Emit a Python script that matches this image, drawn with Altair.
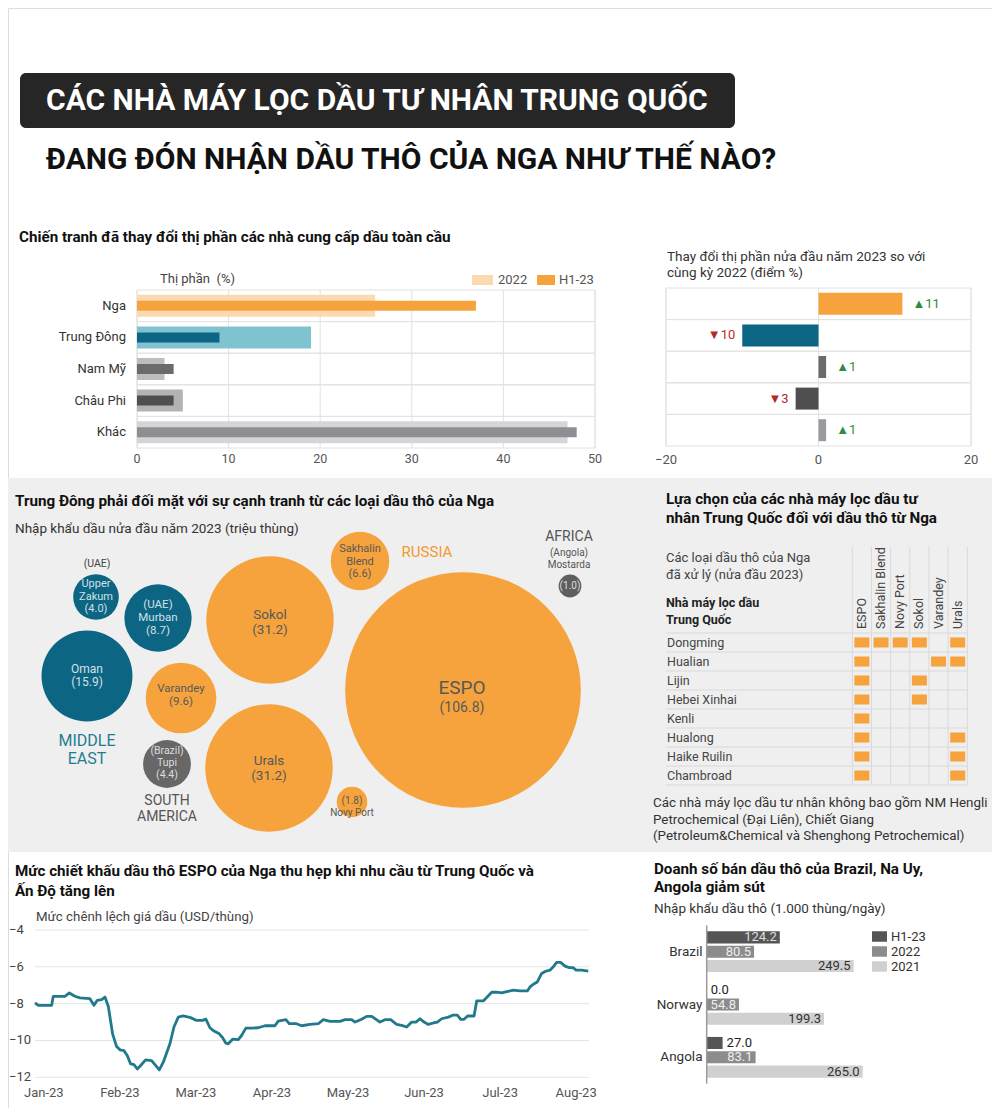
import altair as alt
import pandas as pd

# ---------------- values ----------------
regions = ["Nga", "Trung Đông", "Nam Mỹ", "Châu Phi", "Khác"]
share_2022 = [26, 19, 3, 5, 47]
share_h1 = [37, 9, 4, 4, 48]
share_change = [11, -10, 1, -3, 1]
share_ticks = [0, 10, 20, 30, 40, 50]
change_ticks = [-20, 0, 20]

crudes = ["Upper Zakum", "Murban", "Oman", "Varandey", "Tupi", "Sokol",
          "Urals", "Sakhalin Blend", "ESPO", "Novy Port", "Mostarda"]
crude_volume = [4.0, 8.7, 15.9, 9.6, 4.4, 31.2, 31.2, 6.6, 106.8, 1.8, 1.0]
crude_region = ["Middle East", "Middle East", "Middle East", "Russia", "South America",
                "Russia", "Russia", "Russia", "Russia", "Russia", "Africa"]

refineries = ["Dongming", "Hualian", "Lijin", "Hebei Xinhai", "Kenli",
              "Hualong", "Haike Ruilin", "Chambroad"]
russian_grades = ["ESPO", "Sakhalin Blend", "Novy Port", "Sokol", "Varandey", "Urals"]
processed = [
    [1, 1, 1, 1, 0, 1],
    [1, 0, 0, 0, 1, 1],
    [1, 0, 0, 1, 0, 0],
    [1, 0, 0, 1, 0, 0],
    [1, 0, 0, 0, 0, 0],
    [1, 0, 0, 0, 0, 1],
    [1, 0, 0, 0, 0, 1],
    [1, 0, 0, 0, 0, 1],
]

month_labels = ["Jan-23", "Feb-23", "Mar-23", "Apr-23", "May-23", "Jun-23", "Jul-23", "Aug-23"]
# time in months after the Jan-23 tick
espo_t = [-0.110, -0.066, 0.110, 0.131, 0.285, 0.342, 0.416, 0.482, 0.613, 0.666, 0.710, 0.767,
          0.811, 0.855, 0.911, 0.964, 1.008, 1.060, 1.104, 1.148, 1.192, 1.236, 1.280, 1.345,
          1.424, 1.468, 1.525, 1.578, 1.665, 1.718, 1.775, 1.840, 1.937, 2.016, 2.095, 2.138,
          2.191, 2.244, 2.314, 2.358, 2.401, 2.432, 2.489, 2.564, 2.607, 2.664, 2.739, 2.826,
          2.914, 3.046, 3.089, 3.190, 3.234, 3.330, 3.396,
          3.507, 3.616, 3.682, 3.770, 3.901, 3.967, 4.055, 4.099, 4.186, 4.252, 4.318, 4.427,
          4.493, 4.567, 4.646, 4.712, 4.778, 4.844, 4.900, 4.953, 5.006, 5.063, 5.129, 5.181,
          5.238, 5.326, 5.392, 5.444, 5.488, 5.532, 5.580, 5.664, 5.699, 5.786, 5.830, 5.896,
          5.962, 6.028, 6.093, 6.181, 6.269, 6.365, 6.400, 6.443, 6.496, 6.553, 6.605, 6.662,
          6.706, 6.750, 6.803, 6.860, 6.916, 6.969, 7.005, 7.079, 7.166]
espo_diff = [-7.96, -8.09, -8.09, -7.60, -7.60, -7.42, -7.60, -7.69, -7.73, -8.09, -7.82, -7.78,
             -7.64, -8.15, -9.64, -10.33, -10.51, -10.55, -10.82, -11.27, -11.31, -11.55, -11.36, -11.05,
             -11.09, -11.31, -11.60, -11.18, -10.18, -9.27, -8.73, -8.67, -8.76, -8.91, -8.91, -8.84,
             -9.31, -9.49, -9.64, -9.85, -10.15, -10.18, -9.93, -9.95, -9.73, -9.33, -9.33, -9.31,
             -9.20, -9.20, -8.95, -8.87, -9.09, -9.09, -9.20,
             -9.13, -9.09, -8.87, -8.96, -8.96, -8.87, -8.87, -9.00, -8.85, -8.69, -8.69, -9.00,
             -8.87, -8.87, -9.13, -9.18, -9.27, -9.00, -9.00, -8.82, -9.00, -9.13, -9.05, -9.00,
             -8.82, -8.73, -8.62, -8.62, -8.85, -8.85, -8.67, -8.67, -7.85, -7.85, -7.67, -7.38,
             -7.38, -7.42, -7.35, -7.27, -7.31, -7.31, -7.09, -6.95, -6.82, -6.36, -6.24, -6.18,
             -6.00, -5.76, -5.76, -5.96, -6.04, -6.05, -6.18, -6.18, -6.24]
diff_ticks = [-4, -6, -8, -10, -12]

countries = ["Brazil", "Norway", "Angola"]
import_series = ["H1-23", "2022", "2021"]
imports_h1 = [124.2, 0.0, 27.0]
imports_2022 = [80.5, 54.8, 83.1]
imports_2021 = [249.5, 199.3, 265.0]

# ---------------- layout & style ----------------
W, H, M = 984, 1100, 8


def px(v):
    return v - M


FONT = "Roboto"
GRID = "#e2e2e2"
ORANGE = "#f6a33d"
TEAL = "#0b6583"
TICK = "#555555"
one = pd.DataFrame({"k": [0]})

# bubble centres (layout, page px)
bubble_cx = [96, 158, 87, 181, 167, 270, 269, 360, 463, 352, 570]
bubble_cy = [597, 618, 676, 698, 764, 620, 768, 561, 690, 802, 586]
LIGHT_IN = "#d3e0e5"
DARK_IN = "#595959"
# text, x, y (block centre), font size, colour, line height
bubble_labels = [
    ("(UAE)", 97, 564, 10.5, "#444444", 12),
    ("Upper\nZakum\n(4.0)", 96, 596.5, 11, LIGHT_IN, 12.5),
    ("(UAE)\nMurban\n(8.7)", 158, 617.5, 11.5, LIGHT_IN, 13),
    ("Oman\n(15.9)", 87, 675.5, 12, LIGHT_IN, 13.5),
    ("MIDDLE\nEAST", 87, 750, 16, "#1f7d93", 18),
    ("Varandey\n(9.6)", 181, 695, 11.5, DARK_IN, 13),
    ("(Brazil)\nTupi\n(4.4)", 167, 763, 10.5, "#dddddd", 12),
    ("SOUTH\nAMERICA", 167, 809, 14, "#555555", 16),
    ("Sokol\n(31.2)", 270, 622.5, 13.5, DARK_IN, 15.5),
    ("Urals\n(31.2)", 269, 768.5, 13.5, DARK_IN, 15.5),
    ("Sakhalin\nBlend\n(6.6)", 360, 561.5, 11, DARK_IN, 12.5),
    ("RUSSIA", 427, 552, 15, "#f29a2e", 15),
    ("ESPO", 462, 688, 19, DARK_IN, 19),
    ("(106.8)", 462, 708, 14, DARK_IN, 14),
    ("(1.8)\nNovy Port", 352, 807, 10, DARK_IN, 12),
    ("AFRICA", 569, 537, 14, "#555555", 14),
    ("(Angola)\nMostarda", 569, 558.5, 10, "#555555", 12),
    ("(1.0)", 570, 586, 10, "#dddddd", 10),
]


def note(text, x, y, size=13, color="#333333", weight="normal", align="left",
         baseline="middle", font=FONT, angle=0):
    return alt.Chart(one).mark_text(
        text=text, font=font, fontSize=size, color=color, fontWeight=weight,
        align=align, baseline=baseline, angle=angle
    ).encode(x=alt.value(px(x)), y=alt.value(px(y)))


def box(x1, y1, x2, y2, color, radius=0):
    return alt.Chart(one).mark_rect(color=color, cornerRadius=radius).encode(
        x=alt.value(px(x1)), x2=alt.value(px(x2)), y=alt.value(px(y1)), y2=alt.value(px(y2)))


TITLE = 15.2
layers = []

# ---------------- header ----------------
layers += [
    box(20, 73, 735, 128, "#262626", 6),
    note("CÁC NHÀ MÁY LỌC DẦU TƯ NHÂN TRUNG QUỐC", 46, 101, 30, "#ffffff", "bold"),
    note("ĐANG ĐÓN NHẬN DẦU THÔ CỦA NGA NHƯ THẾ NÀO?", 46, 160, 30, "#111111", "bold"),
]

# ---------------- panel 1: market share ----------------
col_2022 = ["#fcd9b0", "#80c3d0", "#bdbdbd", "#b3b3b3", "#d5d5d7"]
col_h1 = [ORANGE, TEAL, "#6b6b6b", "#4f4f4f", "#8e8e93"]
p1 = pd.DataFrame({"region": regions * 2,
                   "series": ["2022"] * len(regions) + ["H1-23"] * len(regions),
                   "share": share_2022 + share_h1})
p1["key"] = p1["series"] + "|" + p1["region"]
key_domain = ["2022|" + r for r in regions] + ["H1-23|" + r for r in regions]
x1 = alt.Scale(domain=[share_ticks[0], share_ticks[-1]], range=[px(137), px(595)], nice=False, zero=False)
y1 = alt.Scale(type="band", domain=regions, range=[px(290), px(448)], paddingInner=0, paddingOuter=0)
rows1 = pd.DataFrame({"region": regions, "lo": share_ticks[0], "hi": share_ticks[-1]})
ticks1 = pd.DataFrame({"tick": share_ticks})
color1 = alt.Color("key:N", scale=alt.Scale(domain=key_domain, range=col_2022 + col_h1), legend=None)
panel1 = alt.layer(
    alt.Chart(rows1).mark_rect(fill="transparent", stroke=GRID, strokeWidth=1).encode(
        x=alt.X("lo:Q", scale=x1, axis=None), x2="hi:Q", y=alt.Y("region:N", scale=y1, axis=None)),
    alt.Chart(ticks1).mark_rule(color=GRID).encode(
        x=alt.X("tick:Q", scale=x1, axis=None), y=alt.value(px(290)), y2=alt.value(px(448))),
    alt.Chart(p1[p1.series == "2022"]).mark_bar(size=22).encode(
        x=alt.X("share:Q", scale=x1, axis=None), x2=alt.datum(0),
        y=alt.Y("region:N", scale=y1, axis=None), color=color1),
    alt.Chart(p1[p1.series == "H1-23"]).mark_bar(size=10).encode(
        x=alt.X("share:Q", scale=x1, axis=None), x2=alt.datum(0),
        y=alt.Y("region:N", scale=y1, axis=None), color=color1),
    # tick labels
    alt.Chart(ticks1).mark_text(fontSize=12.5, font=FONT, color=TICK).encode(
        x=alt.X("tick:Q", scale=x1, axis=None), y=alt.value(px(459)), text="tick:Q"),
    alt.Chart(rows1).mark_text(align="right", fontSize=13, font=FONT, color="#333333").encode(
        y=alt.Y("region:N", scale=y1, axis=None), x=alt.value(px(126)), text="region:N"),
)
layers += [
    note("Chiến tranh đã thay đổi thị phần các nhà cung cấp dầu toàn cầu", 19, 237, TITLE, "#111111", "bold"),
    note("Thị phần\u00a0\u00a0(%)", 160, 279, 13, "#444444"),
    box(472, 275, 493, 285, "#fcd9b0"), note("2022", 498, 280, 13, "#555555"),
    box(537, 275, 555, 285, ORANGE), note("H1-23", 559, 280, 13, "#555555"),
    panel1,
]

# ---------------- panel 2: change in share ----------------
col_change = [ORANGE, TEAL, "#6b6b6b", "#4f4f4f", "#9a9aa0"]
p2 = pd.DataFrame({"region": regions, "change": share_change})
p2["lbl"] = [("▲" if v > 0 else "▼") + str(abs(v)) for v in share_change]
x2s = alt.Scale(domain=[change_ticks[0], change_ticks[-1]], range=[px(666), px(971)], nice=False, zero=False)
y2s = alt.Scale(type="band", domain=regions, range=[px(288), px(446)], paddingInner=0, paddingOuter=0)
rows2 = pd.DataFrame({"region": regions, "lo": change_ticks[0], "hi": change_ticks[-1]})
ticks2 = pd.DataFrame({"tick": change_ticks})
panel2 = alt.layer(
    alt.Chart(rows2).mark_rect(fill="transparent", stroke=GRID, strokeWidth=1).encode(
        x=alt.X("lo:Q", scale=x2s, axis=None), x2="hi:Q", y=alt.Y("region:N", scale=y2s, axis=None)),
    alt.Chart(ticks2).mark_rule(color=GRID).encode(
        x=alt.X("tick:Q", scale=x2s, axis=None), y=alt.value(px(288)), y2=alt.value(px(446))),
    alt.Chart(p2).mark_bar(size=22).encode(
        x=alt.X("change:Q", scale=x2s, axis=None), x2=alt.datum(0),
        y=alt.Y("region:N", scale=y2s, axis=None),
        color=alt.Color("region:N", scale=alt.Scale(domain=regions, range=col_change), legend=None)),
    alt.Chart(p2[p2.change > 0]).mark_text(align="left", dx=10, fontSize=13, font=FONT, color="#2e8b40").encode(
        x=alt.X("change:Q", scale=x2s, axis=None), y=alt.Y("region:N", scale=y2s, axis=None), text="lbl:N"),
    alt.Chart(p2[p2.change < 0]).mark_text(align="right", dx=-7, fontSize=13, font=FONT, color="#b22a2a").encode(
        x=alt.X("change:Q", scale=x2s, axis=None), y=alt.Y("region:N", scale=y2s, axis=None), text="lbl:N"),
    alt.Chart(ticks2).mark_text(fontSize=13, font=FONT, color=TICK).encode(
        x=alt.X("tick:Q", scale=x2s, axis=None), y=alt.value(px(460)), text="tick:Q"),
)
layers += [
    note("Thay đổi thị phần nửa đầu năm 2023 so với", 667, 257, 13.5, "#333333"),
    note("cùng kỳ 2022 (điểm %)", 667, 273, 13.5, "#333333"),
    panel2,
]

# ---------------- grey band ----------------
layers.append(box(0, 478, 1000, 852, "#efefef"))

# ---------------- panel 3: bubbles ----------------
p3 = pd.DataFrame({"crude": crudes, "volume": crude_volume, "region": crude_region,
                   "cx": bubble_cx, "cy": bubble_cy})
bx = alt.Scale(domain=[0, 1000], range=[px(0), px(1000)], nice=False, zero=False)
by = alt.Scale(domain=[0, 1000], range=[px(0), px(1000)], nice=False, zero=False)
lab3 = pd.DataFrame(bubble_labels, columns=["t", "lx", "ly", "fs", "col", "lh"])
# first-line position of each (multi-line) label block
lab3["ly0"] = lab3["ly"] - lab3["t"].str.count("\n") * lab3["lh"] / 2
bubble_layers = [
    alt.Chart(p3).mark_circle(opacity=1).encode(
        x=alt.X("cx:Q", scale=bx, axis=None), y=alt.Y("cy:Q", scale=by, axis=None),
        size=alt.Size("volume:Q", scale=alt.Scale(type="linear", domain=[0, 100], range=[0, 52030]), legend=None),
        color=alt.Color("region:N", scale=alt.Scale(
            domain=["Middle East", "Russia", "South America", "Africa"],
            range=[TEAL, ORANGE, "#676767", "#5e5e5e"]), legend=None)),
]
for lh in sorted(set(lab3["lh"])):
    bubble_layers.append(
        alt.Chart(lab3[lab3["lh"] == lh]).mark_text(
            font=FONT, baseline="middle", align="center", lineBreak="\n", lineHeight=float(lh)
        ).encode(
            x=alt.X("lx:Q", scale=bx, axis=None), y=alt.Y("ly0:Q", scale=by, axis=None),
            text="t:N", size=alt.Size("fs:Q", scale=None), color=alt.Color("col:N", scale=None)))
panel3 = alt.layer(*bubble_layers)
layers += [
    note("Trung Đông phải đối mặt với sự cạnh tranh từ các loại dầu thô của Nga", 15, 501, TITLE, "#111111", "bold"),
    note("Nhập khẩu dầu nửa đầu năm 2023 (triệu thùng)", 15, 529, 13.5, "#333333"),
    panel3,
]

# ---------------- panel 4: refinery table ----------------
cells = pd.DataFrame([(r, g) for i, r in enumerate(refineries)
                      for j, g in enumerate(russian_grades) if processed[i][j]],
                     columns=["refinery", "grade"])
xt = alt.Scale(type="band", domain=russian_grades, range=[px(852.3), px(967.3)], paddingInner=0, paddingOuter=0)
yt = alt.Scale(type="band", domain=refineries, range=[px(633), px(785)], paddingInner=0, paddingOuter=0)
TGRID = "#d9d9d9"
gdf = pd.DataFrame({"grade": russian_grades})
rdf = pd.DataFrame({"refinery": refineries})
panel4 = alt.layer(
    alt.Chart(gdf).mark_rule(color=TGRID).encode(
        x=alt.X("grade:N", scale=xt, axis=None, bandPosition=0), y=alt.value(px(547)), y2=alt.value(px(785))),
    alt.Chart(gdf.tail(1)).mark_rule(color=TGRID).encode(
        x=alt.X("grade:N", scale=xt, axis=None, bandPosition=1), y=alt.value(px(547)), y2=alt.value(px(785))),
    alt.Chart(rdf).mark_rule(color=TGRID).encode(
        y=alt.Y("refinery:N", scale=yt, axis=None, bandPosition=0), x=alt.value(px(666)), x2=alt.value(px(967))),
    alt.Chart(rdf.tail(1)).mark_rule(color=TGRID).encode(
        y=alt.Y("refinery:N", scale=yt, axis=None, bandPosition=1), x=alt.value(px(666)), x2=alt.value(px(967))),
    alt.Chart(cells).mark_point(shape="M-1,-0.667H1V0.667H-1Z", filled=True, size=225, opacity=1,
                                color=ORANGE, strokeWidth=0).encode(
        x=alt.X("grade:N", scale=xt, axis=None), y=alt.Y("refinery:N", scale=yt, axis=None)),
    alt.Chart(rdf).mark_text(align="left", fontSize=12.5, font=FONT, color="#444444").encode(
        y=alt.Y("refinery:N", scale=yt, axis=None), x=alt.value(px(667)), text="refinery:N"),
    alt.Chart(gdf).mark_text(align="left", baseline="middle", angle=270, fontSize=12.5, font=FONT,
                             color="#444444").encode(
        x=alt.X("grade:N", scale=xt, axis=None), y=alt.value(px(629)), text="grade:N"),
)
layers += [
    note("Lựa chọn của các nhà máy lọc dầu tư", 666, 499, TITLE, "#111111", "bold"),
    note("nhân Trung Quốc đối với dầu thô từ Nga", 666, 518, TITLE, "#111111", "bold"),
    note("Các loại dầu thô của Nga", 666, 558, 13, "#444444"),
    note("đã xử lý (nửa đầu 2023)", 666, 575, 13, "#444444"),
    note("Nhà máy lọc dầu", 666, 603, 12.5, "#222222", "bold"),
    note("Trung Quốc", 666, 620, 12.5, "#222222", "bold"),
    panel4,
    note("Các nhà máy lọc dầu tư nhân không bao gồm NM Hengli", 653, 803, 13.4, "#333333"),
    note("Petrochemical (Đại Liên), Chiết Giang", 653, 820, 13.4, "#333333"),
    note("(Petroleum&Chemical và Shenghong Petrochemical)", 653, 836, 13.4, "#333333"),
]

# ---------------- panel 5: ESPO discount line ----------------
p5 = pd.DataFrame({"t": espo_t, "diff": espo_diff})
xl = alt.Scale(domain=[0, 7], range=[px(43.3), px(43.3 + 7 * 76.05)], nice=False, zero=False)
yl = alt.Scale(domain=[-12, -4], range=[px(1077.3), px(930)], nice=False, zero=False)
month_expr = "[" + ",".join("'" + m + "'" for m in month_labels) + "][datum.value]"
ticks5 = pd.DataFrame({"tick": diff_ticks})
panel5 = alt.layer(
    alt.Chart(ticks5).mark_rule(color="#e4e4e4").encode(
        y=alt.Y("tick:Q", scale=yl, axis=None), x=alt.value(px(35)), x2=alt.value(px(589))),
    alt.Chart(p5).mark_line(color="#217a8b", strokeWidth=2.8, strokeJoin="round").encode(
        x=alt.X("t:Q", scale=xl, axis=alt.Axis(
            orient="bottom", offset=px(1092) - H, values=list(range(len(month_labels))),
            labelExpr=month_expr, labelBaseline="middle", labelPadding=0, tickSize=0, ticks=False,
            domain=False, grid=False, title=None, labelFlush=False, labelOverlap=False,
            labelFontSize=13, labelColor=TICK, labelFont=FONT)),
        y=alt.Y("diff:Q", scale=yl, axis=None)),
    alt.Chart(ticks5).mark_text(align="left", fontSize=13, font=FONT, color="#444444").encode(
        y=alt.Y("tick:Q", scale=yl, axis=None), x=alt.value(px(9)), text="tick:Q"),
)
layers += [
    note("Mức chiết khấu dầu thô ESPO của Nga thu hẹp khi nhu cầu từ Trung Quốc và", 15, 871, TITLE, "#111111", "bold"),
    note("Ấn Độ tăng lên", 15, 891, TITLE, "#111111", "bold"),
    note("Mức chênh lệch giá dầu (USD/thùng)", 36, 917, 13.3, "#444444"),
    panel5,
]

# ---------------- panel 6: crude sales ----------------
p6 = pd.DataFrame({"country": countries * 3,
                   "series": [s for s in import_series for _ in countries],
                   "v": imports_h1 + imports_2022 + imports_2021})
p6["inside"] = p6["v"] >= 50
xs6 = alt.Scale(domain=[0, 300], range=[px(706.7), px(706.7 + 300 * 0.5886)], nice=False, zero=False)
ys6 = alt.Scale(type="band", domain=countries, range=[px(925.3), px(1083.7)], paddingInner=0, paddingOuter=0)
yo6 = alt.Scale(type="band", domain=import_series, paddingInner=0.16, paddingOuter=0.42)
cdf = pd.DataFrame({"country": countries, "zero": 0})
panel6 = alt.layer(
    alt.Chart(p6).mark_bar().encode(
        x=alt.X("v:Q", scale=xs6, axis=None), x2=alt.datum(0),
        y=alt.Y("country:N", scale=ys6, axis=None),
        yOffset=alt.YOffset("series:N", scale=yo6),
        color=alt.Color("series:N", scale=alt.Scale(domain=import_series,
                                                    range=["#555555", "#8c8c8c", "#d0d0d0"]),
                        legend=alt.Legend(orient="none", legendX=px(872), legendY=px(929), title=None,
                                          symbolType="M-1,-0.7H1V0.7H-1Z", symbolSize=225,
                                          symbolStrokeWidth=0, labelFontSize=13, labelColor="#333333",
                                          labelFont=FONT, rowPadding=0, labelOffset=4))),
    alt.Chart(cdf.head(1)).mark_rule(color="#9a9a9a", strokeWidth=1.5).encode(
        x=alt.X("zero:Q", scale=xs6, axis=None), y=alt.value(px(925.3)), y2=alt.value(px(1083.7))),
    alt.Chart(p6[p6.inside]).mark_text(align="right", dx=-3, fontSize=13, font=FONT).encode(
        x=alt.X("v:Q", scale=xs6, axis=None), y=alt.Y("country:N", scale=ys6, axis=None),
        yOffset=alt.YOffset("series:N", scale=yo6), text=alt.Text("v:Q", format=".1f"),
        fill=alt.Fill("series:N", scale=alt.Scale(domain=import_series,
                                                  range=["#dedede", "#eeeeee", "#333333"]), legend=None)),
    alt.Chart(p6[~p6.inside]).mark_text(align="left", dx=4, fontSize=13, font=FONT, color="#222222").encode(
        x=alt.X("v:Q", scale=xs6, axis=None), y=alt.Y("country:N", scale=ys6, axis=None),
        yOffset=alt.YOffset("series:N", scale=yo6), text=alt.Text("v:Q", format=".1f")),
    alt.Chart(cdf).mark_text(align="right", fontSize=13.5, font=FONT, color="#333333").encode(
        y=alt.Y("country:N", scale=ys6, axis=None), x=alt.value(px(702.5)), text="country:N"),
)
layers += [
    note("Doanh số bán dầu thô của Brazil, Na Uy,", 654, 869, TITLE, "#111111", "bold"),
    note("Angola giảm sút", 654, 887, TITLE, "#111111", "bold"),
    note("Nhập khẩu dầu thô (1.000 thùng/ngày)", 654, 909, 13.5, "#333333"),
    panel6,
]

chart = alt.layer(*layers).resolve_scale(
    x="independent", y="independent", color="independent", fill="independent",
    size="independent", yOffset="independent"
).resolve_axis(x="independent", y="independent").resolve_legend(
    color="independent"
).properties(
    width=W, height=H, padding=0, background="white",
    autosize=alt.AutoSizeParams(type="none")
).configure_view(stroke=None).configure(font=FONT)

chart.save("out.html", embed_options={"renderer": "svg", "actions": False})
